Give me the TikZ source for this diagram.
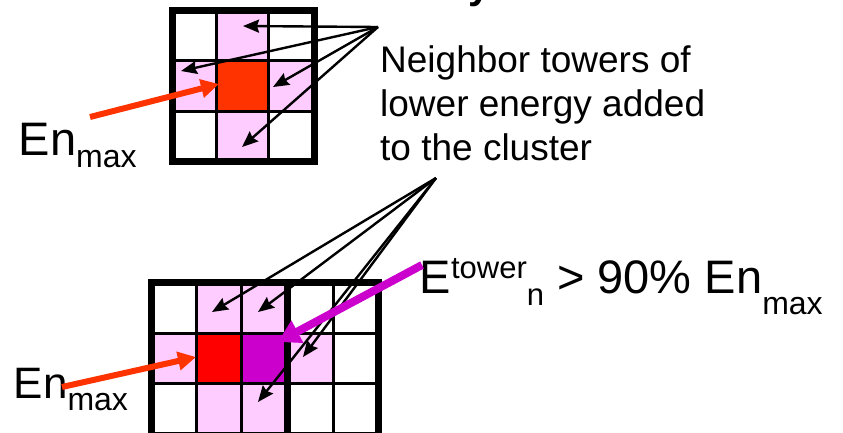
\documentclass[tikz,border=0pt]{standalone}
\usepackage{fontspec}
\setmainfont{Liberation Sans}
\usetikzlibrary{arrows.meta}
\definecolor{pinkcell}{HTML}{FFCCFF}
\definecolor{orangered}{HTML}{FF3300}
\definecolor{purecell}{HTML}{FF0000}
\definecolor{magentacell}{HTML}{CC00CC}
\tikzset{
  thickgrid/.style={line width=7pt, line cap=rect},
  thingrid/.style={line width=3pt},
  blackarrow/.style={line width=2.4pt, -{Stealth[length=16pt,width=13pt,inset=2pt]}},
  orangearrow/.style={line width=6pt, orangered, -{Triangle[length=18pt,width=18pt]}},
  magentaarrow/.style={line width=8pt, magentacell, -{Triangle[length=22pt,width=24pt]}},
  lbl/.style={inner sep=0pt, anchor=base west}
}
\begin{document}
\begin{tikzpicture}[x=1pt,y=-1pt]
\useasboundingbox (0,0) rectangle (843,432);
% ---------- top 3x3 grid ----------
\fill[pinkcell] (216,10) rectangle (268.5,60.5);
\fill[pinkcell] (172.5,60.5) rectangle (216,111.5);
\fill[pinkcell] (268.5,60.5) rectangle (314,111.5);
\fill[pinkcell] (216,111.5) rectangle (268.5,161.5);
\fill[orangered] (216,60.5) rectangle (268.5,111.5);
\draw[thingrid] (216,10) -- (216,161.5) (268.5,10) -- (268.5,161.5)
                (172.5,60.5) -- (314,60.5) (172.5,111.5) -- (314,111.5);
\draw[thickgrid] (172.5,10) rectangle (314,161.5);
% ---------- bottom grid ----------
\fill[pinkcell] (196.5,282.5) rectangle (287.5,333.5);
\fill[pinkcell] (151.5,333.5) rectangle (196.5,383.5);
\fill[pinkcell] (287.5,333.5) rectangle (333,383.5);
\fill[pinkcell] (196.5,383.5) rectangle (287.5,440);
\fill[purecell] (196.5,333.5) rectangle (241.5,383.5);
\fill[magentacell] (241.5,333.5) rectangle (287.5,383.5);
\draw[thingrid] (196.5,282.5) -- (196.5,440) (241.5,282.5) -- (241.5,440)
                (333,282.5) -- (333,440)
                (151.5,333.5) -- (378,333.5) (151.5,383.5) -- (378,383.5);
\draw[thickgrid] (287.5,282.5) -- (287.5,440);
\draw[thickgrid] (151.5,282.5) rectangle (378,435);
% ---------- coordinates ----------
\coordinate (s1) at (378,27);
\coordinate (t1a) at (243,26);
\coordinate (t1b) at (181,71);
\coordinate (t1c) at (273,87);
\coordinate (t1d) at (242,147);
\coordinate (s2) at (436,178);
\coordinate (t2a) at (212,312);
\coordinate (t2b) at (258,312);
\coordinate (t2c) at (303,357);
\coordinate (t2d) at (258,402);
\coordinate (o1s) at (90,117);
\coordinate (o1t) at (219,84);
\coordinate (o2s) at (62,387);
\coordinate (o2t) at (196,357);
\coordinate (ms) at (422,265);
\coordinate (mt) at (278,342);
% ---------- texts ----------
\node[lbl, font=\bfseries\fontsize{40}{40}\selectfont] (title) at (468,-1.5) {y};
\node[lbl, align=left, font=\fontsize{37}{44}\selectfont] (note) at (380,160)
  {Neighbor towers of\\lower energy added\\to the cluster};
\node[lbl, font=\fontsize{47}{47}\selectfont] (en1) at (18.5,155)
  {En\raisebox{-12pt}{\fontsize{32}{32}\selectfont max}};
\node[lbl, font=\fontsize{44}{44}\selectfont] (en2) at (13.5,398)
  {En\raisebox{-12pt}{\fontsize{32}{32}\selectfont max}};
\node[lbl, font=\fontsize{47}{47}\selectfont] (cond) at (419.5,293)
  {E\raisebox{15pt}{\fontsize{31}{31}\selectfont tower}\raisebox{-12pt}{\fontsize{31}{31}\selectfont n} > 90\% En\raisebox{-21pt}{\fontsize{32}{32}\selectfont max}};
% ---------- arrows ----------
\foreach \t in {t1a,t1b,t1c,t1d} \draw[blackarrow] (s1) -- (\t);
\foreach \t in {t2a,t2b,t2c,t2d} \draw[blackarrow] (s2) -- (\t);
\draw[orangearrow] (o1s) -- (o1t);
\draw[orangearrow] (o2s) -- (o2t);
\draw[magentaarrow] (ms) -- (mt);
\end{tikzpicture}
\end{document}
